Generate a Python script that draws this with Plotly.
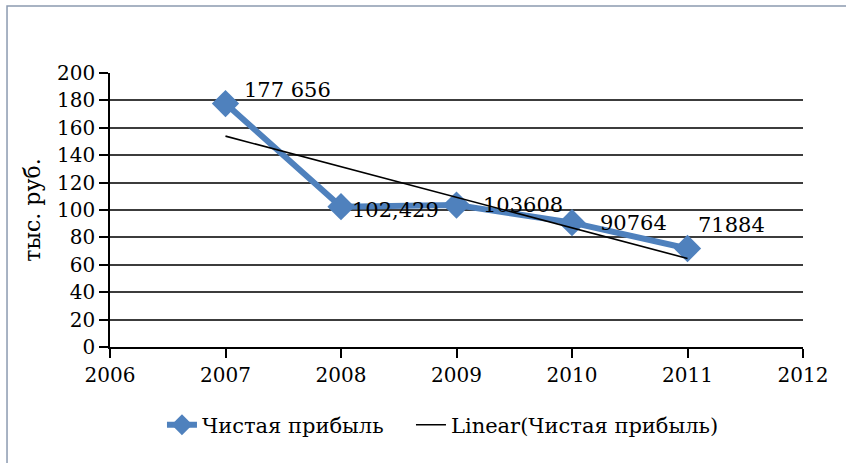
import numpy as np
import plotly.graph_objects as go

# Net profit by year, thousand roubles
years = [2007, 2008, 2009, 2010, 2011]
profit = [177.656, 102.429, 103.608, 90.764, 71.884]
profit_labels = ["177 656", "102,429", "103608", "90764", "71884"]
y_ticks = [0, 20, 40, 60, 80, 100, 120, 140, 160, 180, 200]
x_ticks = [2006, 2007, 2008, 2009, 2010, 2011, 2012]

series_name = "Чистая прибыль"
trend_name = "Linear(Чистая прибыль)"
y_title = "тыс. руб."

# label offsets (pixels) relative to each point
label_dx = [16, 9, 24, 26, 8]
label_dy = [14, -3, 0, 0, 24]

SERIF = "DejaVu Serif, Liberation Serif, serif"
BLUE = "#4F81BD"

# least-squares linear trend
slope, intercept = np.polyfit(years, profit, 1)
trend = [slope * x + intercept for x in years]

fig = go.Figure()
fig.add_trace(go.Scatter(
    x=years, y=profit, name=series_name, mode="lines+markers",
    line=dict(color=BLUE, width=6),
    marker=dict(symbol="diamond", size=21, color=BLUE),
    legend="legend",
))
fig.add_trace(go.Scatter(
    x=years, y=trend, name=trend_name, mode="lines",
    line=dict(color="black", width=1.6),
    legend="legend2",
))

for x, y, t, dx, dy in zip(years, profit, profit_labels, label_dx, label_dy):
    fig.add_annotation(
        x=x, y=y, text=t, showarrow=False, xanchor="left", yanchor="middle",
        xshift=dx, yshift=dy, font=dict(family=SERIF, size=21, color="black"),
    )

# outer chart frame
fig.add_shape(
    type="rect", xref="paper", yref="paper",
    x0=-0.1486, x1=1.2, y0=-0.6, y1=1.2445,
    line=dict(color="#8C9BB0", width=1.5), fillcolor="rgba(0,0,0,0)",
    layer="below",
)

legend_style = dict(
    orientation="h", xanchor="left", y=-0.285, yanchor="middle",
    font=dict(family=SERIF, size=21, color="black"),
    itemwidth=30, bgcolor="rgba(0,0,0,0)",
)

fig.update_layout(
    width=846, height=463,
    margin=dict(l=110, r=43, t=73, b=116),
    paper_bgcolor="white", plot_bgcolor="white",
    font=dict(family=SERIF, size=20, color="black"),
    showlegend=True,
    legend=dict(x=0.075, **legend_style),
    legend2=dict(x=0.4343, **legend_style),
    xaxis=dict(
        range=[2006, 2012], tickvals=x_ticks, ticktext=[str(v) for v in x_ticks],
        showgrid=False, zeroline=False,
        showline=True, linecolor="black", linewidth=1.5,
        ticks="outside", ticklen=9, tickcolor="black", tickwidth=1.5,
        tickfont=dict(family=SERIF, size=20),
    ),
    yaxis=dict(
        range=[0, 200], tickvals=y_ticks,
        showgrid=True, gridcolor="#3C3C3C", gridwidth=2, zeroline=False,
        showline=True, linecolor="black", linewidth=1.5,
        ticks="outside", ticklen=9, tickcolor="black", tickwidth=1.5,
        tickfont=dict(family=SERIF, size=20),
        title=dict(text=y_title, font=dict(family=SERIF, size=22), standoff=10),
    ),
)

fig.write_html("out.html")
